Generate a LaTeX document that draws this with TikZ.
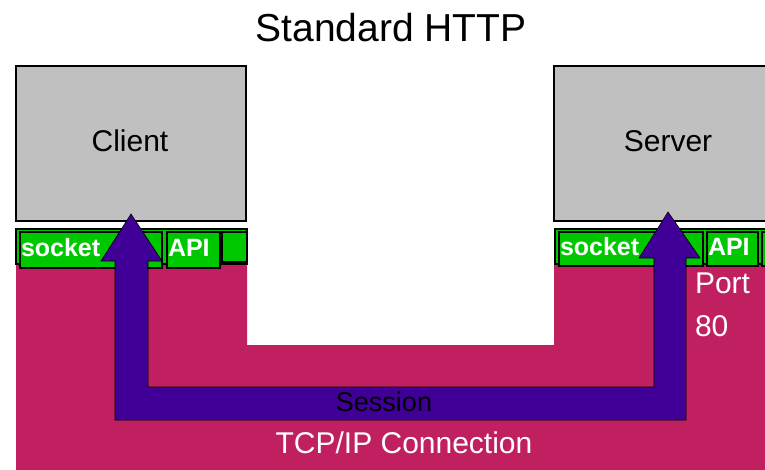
\documentclass[tikz,border=0pt]{standalone}
\usepackage{fontspec}
\setmainfont{Liberation Sans}
\definecolor{hostgray}{RGB}{192,192,192}
\definecolor{apigreen}{RGB}{0,200,0}
\definecolor{tcpred}{RGB}{192,32,96}
\definecolor{sessionpurple}{RGB}{64,0,152}
\begin{document}
\begin{tikzpicture}[x=1pt,y=-1pt,
  every node/.style={inner sep=0pt, outer sep=0pt},
  hostbox/.style={draw=black, line width=1.5pt, fill=hostgray, anchor=north west, minimum height=155pt},
  hosttext/.style={font=\fontsize{30}{36}\selectfont},
  greenbar/.style={draw=black, line width=1.2pt, fill=apigreen, anchor=north west},
  gtext/.style={font=\bfseries\fontsize{25}{30}\selectfont, text=white, anchor=west},
  wtext/.style={font=\fontsize{30}{36}\selectfont, text=white},
  sessionarrow/.style={fill=sessionpurple, draw=black, line width=0.6pt, line join=miter}]
\clip (0,0) rectangle (765,469);
\fill[white] (0,0) rectangle (765,469);
\node[font=\fontsize{39}{46}\selectfont] (title) at (391,28) {Standard HTTP};
% TCP/IP connection region
\fill[tcpred] (16,262) -- (247,262) -- (247,345) -- (554,345) -- (554,262) -- (780,262) -- (780,480) -- (16,480) -- cycle;
% left socket API bar
\node[greenbar, minimum width=231pt, minimum height=35pt] (lbar) at (16,229) {};
\node[greenbar, minimum width=142pt, minimum height=36pt] (lsock) at (20,232) {};
\node[greenbar, minimum width=53pt, minimum height=36pt] (lapi) at (167,232) {};
\node[greenbar, minimum width=25pt, minimum height=30pt] (lend) at (222,232) {};
\node[gtext] (lsockt) at ([xshift=1pt,yshift=2pt]lsock.west) {socket};
\node[gtext] (lapit) at ([xshift=1pt,yshift=2pt]lapi.west) {API};
% right socket API bar
\node[greenbar, minimum width=230pt, minimum height=35pt] (rbar) at (555,229) {};
\node[greenbar, minimum width=144pt, minimum height=34pt] (rsock) at (559,232) {};
\node[greenbar, minimum width=51pt, minimum height=34pt] (rapi) at (707,232) {};
\node[greenbar, minimum width=20pt, minimum height=34pt] (rend) at (762,232) {};
\node[gtext] (rsockt) at ([xshift=1pt,yshift=2pt]rsock.west) {socket};
\node[gtext] (rapit) at ([xshift=1pt,yshift=2pt]rapi.west) {API};
% hosts
\node[hostbox, minimum width=230pt] (client) at (16,66) {};
\node[hosttext] (clientt) at (130,141) {Client};
\node[hostbox, minimum width=240pt] (server) at (554,66) {};
\node[hosttext] (servert) at (668,141) {Server};
% session U arrow
\draw[sessionarrow] (131,214) -- (162,261) -- (148,261) -- (148,387) -- (654,387)
  -- (654,258) -- (639,258) -- (668,212) -- (700,258) -- (686,258)
  -- (686,420) -- (115,420) -- (115,261) -- (101,261) -- cycle;
\node[font=\fontsize{27}{32}\selectfont] (session) at (384,402) {Session};
\node[wtext] (tcp) at (404,443) {TCP/IP Connection};
\node[wtext, anchor=west] (port) at (695,283) {Port};
\node[wtext, anchor=west] (portnum) at (695,326) {80};
\end{tikzpicture}
\end{document}
